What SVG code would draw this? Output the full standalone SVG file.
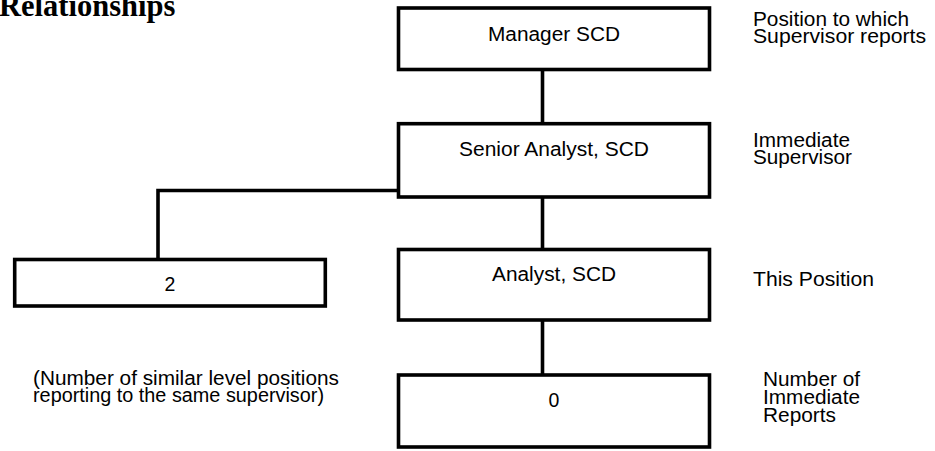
<svg xmlns="http://www.w3.org/2000/svg" width="935" height="451" viewBox="0 0 935 451">
<style>
.box{fill:#fff;stroke:#000;stroke-width:3.6}
.conn{fill:none;stroke:#000;stroke-width:3.6}
.t{font-family:"Liberation Sans",Arial,sans-serif;font-size:19.5px;fill:#000}
.c{text-anchor:middle}
.title{font-family:"Liberation Serif","Times New Roman",serif;font-weight:bold;font-size:30.5px;fill:#000}
</style>
<rect width="935" height="451" fill="#fff"/>
<text class="title" x="-1" y="16">Relationships</text>
<g id="connectors">
<line class="conn" x1="542.5" y1="69.5" x2="542.5" y2="123.7"/>
<line class="conn" x1="542.5" y1="197" x2="542.5" y2="249.5"/>
<line class="conn" x1="542.5" y1="320" x2="542.5" y2="375"/>
<polyline class="conn" points="398.5,190.5 158,190.5 158,259.5"/>
</g>
<g id="manager">
<rect class="box" x="398.5" y="8" width="311" height="61.5"/>
<text class="t c" x="554" y="41" textLength="132" lengthAdjust="spacingAndGlyphs">Manager SCD</text>
</g>
<g id="senior">
<rect class="box" x="398.5" y="123.7" width="311" height="73.3"/>
<text class="t c" x="554" y="156" textLength="190" lengthAdjust="spacingAndGlyphs">Senior Analyst, SCD</text>
</g>
<g id="analyst">
<rect class="box" x="398.5" y="249.5" width="311" height="70.5"/>
<text class="t c" x="554" y="281" textLength="124" lengthAdjust="spacingAndGlyphs">Analyst, SCD</text>
</g>
<g id="reports">
<rect class="box" x="398.5" y="375" width="311" height="72"/>
<text class="t c" x="554" y="407">0</text>
</g>
<g id="peers">
<rect class="box" x="14.7" y="259.5" width="310.6" height="46.5"/>
<text class="t c" x="170" y="291">2</text>
</g>
<g id="labels">
<text class="t" x="753" y="26" textLength="156" lengthAdjust="spacingAndGlyphs">Position to which</text>
<text class="t" x="753" y="43" textLength="173" lengthAdjust="spacingAndGlyphs">Supervisor reports</text>
<text class="t" x="753" y="147" textLength="97" lengthAdjust="spacingAndGlyphs">Immediate</text>
<text class="t" x="753" y="164" textLength="99" lengthAdjust="spacingAndGlyphs">Supervisor</text>
<text class="t" x="753" y="286" textLength="121" lengthAdjust="spacingAndGlyphs">This Position</text>
<text class="t" x="763" y="386" textLength="97" lengthAdjust="spacingAndGlyphs">Number of</text>
<text class="t" x="763" y="404" textLength="97" lengthAdjust="spacingAndGlyphs">Immediate</text>
<text class="t" x="763" y="422" textLength="73" lengthAdjust="spacingAndGlyphs">Reports</text>
<text class="t" x="33" y="385" textLength="306" lengthAdjust="spacingAndGlyphs">(Number of similar level positions</text>
<text class="t" x="33" y="402" textLength="291" lengthAdjust="spacingAndGlyphs">reporting to the same supervisor)</text>
</g>
</svg>
